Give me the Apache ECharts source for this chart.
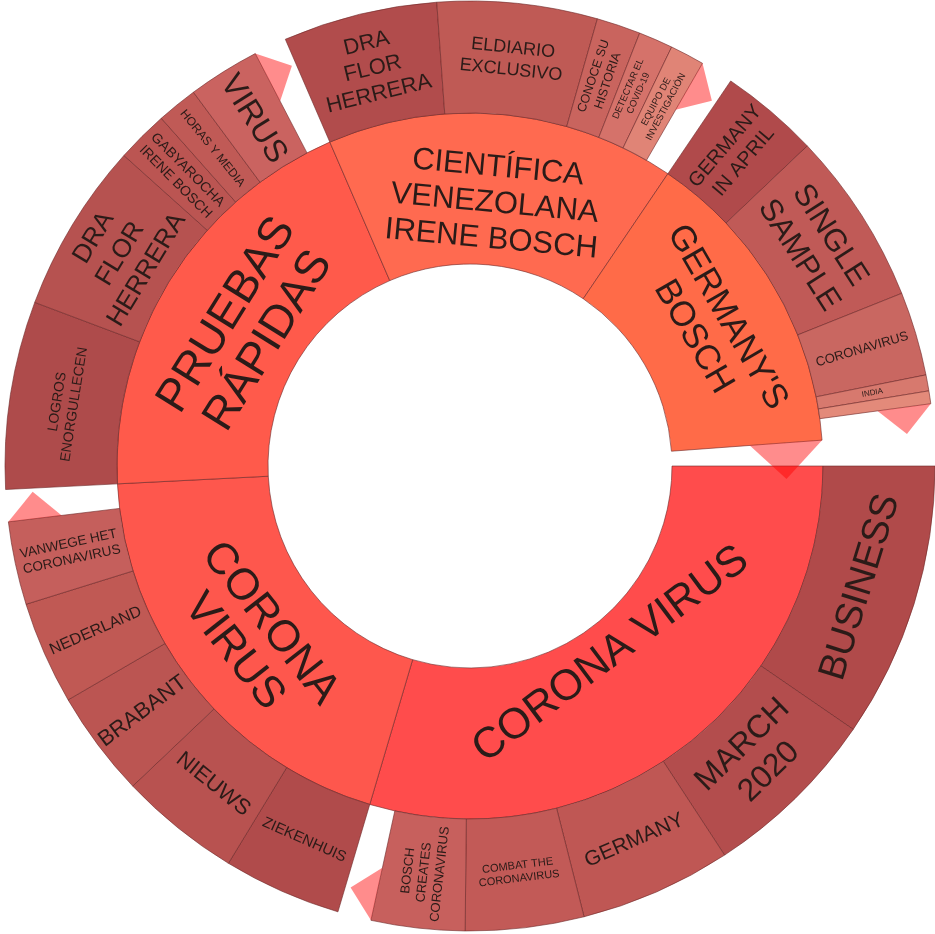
<!DOCTYPE html>
<html>
<head>
<meta charset="utf-8">
<script src="https://cdn.jsdelivr.net/npm/echarts@6/dist/echarts.min.js"></script>
<style>
  html, body { margin: 0; padding: 0; background: #fff; }
  #chart { width: 935px; height: 934px; }
</style>
</head>
<body>
<div id="chart"></div>
<script>
// inner ring: topics (clockwise from 3 o'clock)
const topics = ['CORONA VIRUS', 'CORONA\nVIRUS', 'PRUEBAS\nRÁPIDAS', 'CIENTÍFICA\nVENEZOLANA\nIRENE BOSCH', "GERMANY'S\nBOSCH"];
const topicValues = [106.5, 70.6, 69.5, 57.5, 51.7];
// empty share left at the end of the circle
const restValue = 4.2;

// outer ring: keywords of each topic
const keywords = [
  ['BUSINESS', 'MARCH\n2020', 'GERMANY', 'COMBAT THE\nCORONAVIRUS', 'BOSCH\nCREATES\nCORONAVIRUS'],
  ['ZIEKENHUIS', 'NIEUWS', 'BRABANT', 'NEDERLAND', 'VANWEGE HET\nCORONAVIRUS'],
  ['LOGROS\nENORGULLECEN', 'DRA\nFLOR\nHERRERA', 'GABYAROCHA\nIRENE BOSCH', 'HORAS Y MEDIA', 'VIRUS'],
  ['DRA\nFLOR\nHERRERA', 'ELDIARIO\nEXCLUSIVO', 'CONOCE SU\nHISTORIA', 'DETECTAR EL\nCOVID-19', 'EQUIPO DE\nINVESTIGACIÓN'],
  ['GERMANY\nIN APRIL', 'SINGLE\nSAMPLE', 'CORONAVIRUS', 'INDIA', '']
];
const keywordValues = [
  [34.5, 22.3, 19.0, 14.8, 11.7],
  [14.8, 15.2, 13.3, 12.9, 10.4],
  [23.5, 21.3, 6.5, 5.1, 9.0],
  [19.3, 20.0, 5.5, 4.3, 4.3],
  [12.4, 21.7, 10.5, 2.0, 1.6]
];

// styles
const topicColors = ['#ff4c4c', '#fe574d', '#ff5a4b', '#ff6a50', '#ff6b48'];
const topicFont = [43, 44, 46, 31, 35];
const topicLineHeight = [46, 46, 49, 36, 39];
// spacer line that nudges a label towards the hole: [height, placed after text?]
const topicNudge = [[84, true], [0, false], [32, false], [28, false], [0, false]];
const keywordColors = [
  ['#b04a4a', '#b34d4d', '#bf5754', '#c25a57', '#c7605d'],
  ['#b04b4b', '#b85250', '#bb5552', '#c05954', '#c55f5c'],
  ['#ae4b4b', '#b65250', '#bb5552', '#c05a56', '#ca6360'],
  ['#b14c4c', '#bf5a55', '#c9645e', '#d5726a', '#e08476'],
  ['#b04a4b', '#c05a57', '#c96761', '#d7796e', '#e38a7a']
];
const keywordFont = [
  [38, 32, 21, 11, 13],
  [15, 22, 22, 16, 13.5],
  [14, 26, 14, 12, 32],
  [22, 18, 12.5, 9.5, 9.5],
  [20, 31, 13, 8, 8]
];
const keywordRotate = [
  ['tangential', 'tangential', 'tangential', 'tangential', 'radial'],
  ['tangential', 'tangential', 'radial', 'radial', 'radial'],
  ['tangential', 'tangential', 'radial', 'radial', 'radial'],
  ['tangential', 'tangential', 'radial', 'radial', 'radial'],
  ['radial', 'tangential', 'radial', 'radial', 'radial']
];

const CX = 470, CY = 466;
const RADII = [202, 353, 465];

function topicLabel(i) {
  const label = {
    fontSize: topicFont[i],
    lineHeight: topicLineHeight[i],
    rotate: 'tangential'
  };
  const [h, after] = topicNudge[i];
  if (h > 0) {
    label.formatter = after ? '{b}\n{gap| }' : '{gap| }\n{b}';
    label.rich = { gap: { lineHeight: h, fontSize: 1 } };
  }
  return label;
}

const sunData = topics.map((name, i) => ({
  name: name,
  value: topicValues[i],
  itemStyle: { color: topicColors[i] },
  label: topicLabel(i),
  children: keywords[i].map((kw, j) => ({
    name: kw,
    value: keywordValues[i][j],
    itemStyle: { color: keywordColors[i][j] },
    label: {
      fontSize: keywordFont[i][j],
      lineHeight: Math.round(keywordFont[i][j] * 1.2),
      rotate: keywordRotate[i][j]
    }
  }))
}));
sunData.push({
  name: '',
  value: restValue,
  itemStyle: { color: 'rgba(0,0,0,0)', borderWidth: 0 },
  label: { show: false }
});

// gap markers: where the children do not fill their parent
const gaps = [];
let acc = 0;
topicValues.forEach((v, i) => {
  const used = keywordValues[i].reduce((a, b) => a + b, 0);
  if (used < v) gaps.push([acc + used, 2]);
  acc += v;
});
gaps.push([acc, 1]);

const chart = echarts.init(document.getElementById('chart'));
chart.setOption({
  animation: false,
  polar: { center: [CX, CY], radius: [0, RADII[2]] },
  angleAxis: { type: 'value', min: 0, max: 360, startAngle: 0, clockwise: true, show: false },
  radiusAxis: { type: 'value', min: 0, max: RADII[2], show: false },
  series: [
    {
      type: 'sunburst',
      center: [CX, CY],
      radius: [RADII[0], RADII[2]],
      startAngle: 0,
      clockwise: true,
      sort: null,
      nodeClick: false,
      emphasis: { disabled: true },
      itemStyle: { borderColor: 'rgba(110,40,40,0.6)', borderWidth: 1 },
      label: {
        color: '#2b1b18',
        fontFamily: 'Liberation Sans',
        align: 'center'
      },
      levels: [
        {},
        { r0: RADII[0], r: RADII[1] },
        { r0: RADII[1], r: RADII[2] }
      ],
      data: sunData
    },
    {
      type: 'custom',
      coordinateSystem: 'polar',
      z: 5,
      silent: true,
      data: gaps,
      renderItem: function (params, api) {
        const end = api.value(0);
        const ring = api.value(1);
        const r0 = RADII[ring - 1], r1 = RADII[ring];
        const rb = r1 - (r1 - r0) * 0.48;
        const rm = (rb + r1) / 2;
        const h = (r1 - rb) / 2;
        const apex = end + h / rm * 180 / Math.PI;
        return {
          type: 'polygon',
          shape: { points: [api.coord([rb, end]), api.coord([r1, end]), api.coord([rm, apex])] },
          style: { fill: 'rgba(255,0,0,0.45)' }
        };
      }
    }
  ]
});
</script>
</body>
</html>
